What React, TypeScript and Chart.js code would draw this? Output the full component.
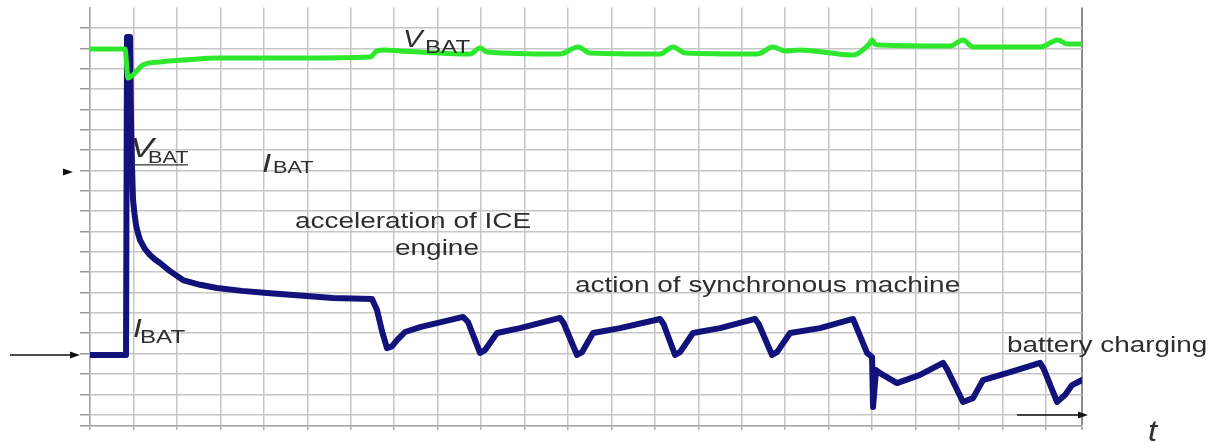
import React, { useEffect, useRef } from 'react';
import { Chart, registerables } from 'chart.js';

Chart.register(...registerables);

// Time axis in grid divisions, amplitude in grid divisions
const vbatTime = [0, 0.806, 0.875, 0.99, 1.22, 1.611, 2.14, 2.992, 4.833, 6.444, 6.605, 6.789, 7.135, 8.746, 8.976, 9.137, 10.817, 11.231, 11.507, 13.118, 13.418, 13.694, 15.351, 15.719, 15.995, 16.341, 17.56, 17.952, 17.998, 18.067, 18.182, 19.793, 20.092, 20.322, 21.864, 22.279, 22.486, 22.831];
const vbatLevel = [17.97, 17.97, 16.54, 16.69, 17.18, 17.33, 17.42, 17.52, 17.52, 17.57, 17.87, 17.92, 17.87, 17.72, 18.01, 17.82, 17.72, 18.06, 17.77, 17.72, 18.06, 17.77, 17.72, 18.06, 17.87, 17.92, 17.67, 18.26, 18.41, 18.21, 18.16, 18.11, 18.41, 18.06, 18.06, 18.41, 18.21, 18.21];

const ibatTime = [0, 0.829, 0.852, 0.921, 0.944, 0.967, 0.99, 1.025, 1.059, 1.105, 1.151, 1.266, 1.381, 1.496, 1.611, 1.841, 2.14, 2.532, 2.923, 3.5, 4.074, 5.593, 6.49, 6.605, 6.72, 6.835, 6.95, 7.066, 7.25, 7.595, 8.585, 8.7, 8.976, 9.091, 9.367, 9.896, 10.817, 10.9, 11.208, 11.323, 11.577, 12.198, 13.118, 13.2, 13.464, 13.579, 13.878, 14.499, 15.305, 15.39, 15.696, 15.811, 16.111, 16.801, 17.56, 17.883, 17.998, 18.021, 18.09, 18.182, 18.573, 19.102, 19.632, 19.72, 20.092, 20.322, 20.552, 21.174, 21.864, 21.95, 22.255, 22.44, 22.601, 22.831];
const ibatLevel = [2.93, 2.93, 18.56, 18.56, 14.47, 12.2, 10.55, 9.85, 9.31, 8.9, 8.58, 8.13, 7.84, 7.62, 7.45, 7.05, 6.61, 6.38, 6.22, 6.08, 5.98, 5.73, 5.68, 5.14, 4.1, 3.27, 3.35, 3.66, 4.06, 4.3, 4.8, 4.55, 3.03, 3.17, 4.01, 4.25, 4.75, 4.5, 2.93, 3.07, 4.01, 4.25, 4.7, 4.45, 2.93, 3.07, 4.01, 4.25, 4.7, 4.45, 2.93, 3.07, 4.01, 4.25, 4.7, 3.03, 2.83, 0.37, 2.19, 2.04, 1.55, 1.95, 2.54, 2.25, 0.62, 0.81, 1.7, 2.09, 2.54, 2.25, 0.62, 0.96, 1.45, 1.7];

const xGridTicks = [0, 1, 2, 3, 4, 5, 6, 7, 8, 9, 10, 11, 12, 13, 14, 15, 16, 17, 18, 19, 20, 21, 22, 22.83];
const yGridTicks = [-0.56, 0, 1, 2, 3, 4, 5, 6, 7, 8, 9, 10, 11, 12, 13, 14, 15, 16, 17, 18, 19];

const X_MIN = 0;
const X_MAX = 22.83;
const Y_MIN = -0.56;
const Y_MAX = 20;

const annotationPlugin = {
  id: 'annotations',
  afterDraw(chart: any) {
    const { ctx, scales } = chart;
    const xs = scales.x;
    const ys = scales.y;
    const px = (v: number) => xs.getPixelForValue(v);
    const py = (v: number) => ys.getPixelForValue(v);
    const family = '"Liberation Sans", Arial, sans-serif';
    const text = (s: string, xv: number, yv: number, size: number, italic = false, sx = 1.27) => {
      ctx.save();
      ctx.translate(px(xv), py(yv));
      ctx.scale(sx, 1);
      ctx.font = `${italic ? 'italic ' : ''}${size}px ${family}`;
      ctx.fillStyle = '#2e2e2e';
      ctx.textBaseline = 'alphabetic';
      ctx.textAlign = 'left';
      ctx.fillText(s, 0, 0);
      ctx.restore();
    };
    const arrow = (x0: number, x1: number, yv: number, head: number, withLine = true) => {
      const a = px(x0), b = px(x1), yy = py(yv);
      ctx.save();
      ctx.strokeStyle = '#111';
      ctx.fillStyle = '#111';
      ctx.lineWidth = 1.6;
      if (withLine) {
        ctx.beginPath();
        ctx.moveTo(a, yy);
        ctx.lineTo(b - head + 1, yy);
        ctx.stroke();
      }
      ctx.beginPath();
      ctx.moveTo(b, yy);
      ctx.lineTo(b - head, yy - 3.5);
      ctx.lineTo(b - head, yy + 3.5);
      ctx.closePath();
      ctx.fill();
      ctx.restore();
    };

    // V_BAT near voltage trace
    text('V', 7.204, 18.06, 23, true);
    text('BAT', 7.71, 17.77, 19);
    // V_BAT underlined
    text('V', 0.921, 12.65, 28, true);
    text('BAT', 1.335, 12.36, 17);
    ctx.save();
    ctx.strokeStyle = '#333';
    ctx.lineWidth = 1.2;
    ctx.beginPath();
    ctx.moveTo(px(0.99), py(12.27));
    ctx.lineTo(px(2.255), py(12.27));
    ctx.stroke();
    ctx.restore();
    // I_BAT (middle)
    text('I', 3.959, 11.92, 26, true);
    text('BAT', 4.212, 11.87, 17);
    // I_BAT (lower)
    text('I', 0.99, 3.81, 25, true);
    text('BAT', 1.151, 3.52, 19);

    text('acceleration of ICE', 4.718, 9.16, 22);
    text('engine', 7.02, 7.84, 22);
    text('action of synchronous machine', 11.162, 6.02, 22);
    text('battery charging', 21.105, 3.08, 22);
    text('t', 24.35, -1.31, 30, true, 1.1);

    arrow(-1.841, -0.23, 2.93, 10);
    arrow(-0.644, -0.391, 11.92, 10, false);
    arrow(21.335, 22.969, -0.02, 10);
  },
};

export default function App() {
  const canvasRef = useRef<HTMLCanvasElement | null>(null);

  useEffect(() => {
    if (!canvasRef.current) return;
    const vbatData = vbatTime.map((t, i) => ({ x: t, y: vbatLevel[i] }));
    const ibatData = ibatTime.map((t, i) => ({ x: t, y: ibatLevel[i] }));

    const chart = new Chart(canvasRef.current, {
      type: 'line',
      data: {
        datasets: [
          {
            label: 'VBAT',
            data: vbatData,
            borderColor: '#2ee82e',
            borderWidth: 5,
            pointRadius: 0,
            cubicInterpolationMode: 'monotone',
            borderJoinStyle: 'round',
            borderCapStyle: 'round',
          },
          {
            label: 'IBAT',
            data: ibatData,
            borderColor: '#12127a',
            borderWidth: 6,
            pointRadius: 0,
            tension: 0,
            borderJoinStyle: 'round',
            borderCapStyle: 'round',
          },
        ],
      },
      options: {
        responsive: false,
        animation: false,
        devicePixelRatio: 1,
        layout: { padding: { left: 80, right: 133, top: 7.6, bottom: 13 } },
        plugins: {
          legend: { display: false },
          tooltip: { enabled: false },
        },
        scales: {
          x: {
            type: 'linear',
            min: X_MIN,
            max: X_MAX,
            afterBuildTicks: (s: any) => {
              s.ticks = xGridTicks.map((value) => ({ value }));
            },
            afterFit: (s: any) => {
              s.height = 4;
            },
            ticks: { display: false },
            grid: {
              color: (c: any) => (c.tick && c.tick.value === X_MAX ? '#8c8c8c' : '#c6c6c6'),
              lineWidth: (c: any) => (c.tick && c.tick.value === X_MAX ? 2 : 1.5),
              tickLength: 4,
              tickColor: '#b0b0b0',
            },
            border: { display: true, color: '#a8a8a8', width: 1.5 },
          },
          y: {
            type: 'linear',
            min: Y_MIN,
            max: Y_MAX,
            afterBuildTicks: (s: any) => {
              s.ticks = yGridTicks.map((value) => ({ value }));
            },
            afterFit: (s: any) => {
              s.width = 10;
            },
            ticks: { display: false },
            grid: {
              color: '#c6c6c6',
              lineWidth: 1.5,
              tickLength: 10,
              tickColor: '#9a9a9a',
            },
            border: { display: true, color: '#a8a8a8', width: 1.5 },
          },
        },
      },
      plugins: [annotationPlugin],
    });
    return () => chart.destroy();
  }, []);

  return (
    <div style={{ position: 'absolute', left: 0, top: 0, width: 1215, height: 443, background: '#fff' }}>
      <canvas ref={canvasRef} width={1215} height={443} style={{ display: 'block' }} />
    </div>
  );
}
